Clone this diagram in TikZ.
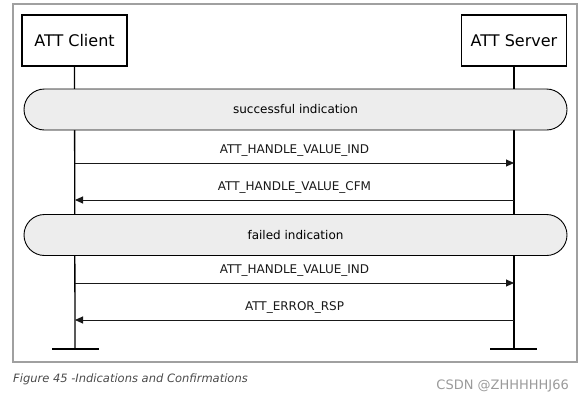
\documentclass[tikz,border=0pt]{standalone}
\usepackage{fontspec}
\setmainfont{DejaVu Sans}
\usepackage{xcolor}
\definecolor{framegray}{HTML}{A0A0A0}
\definecolor{barfill}{HTML}{EDEDED}
\definecolor{captext}{HTML}{4A4A4A}
\definecolor{marktext}{HTML}{9A9A9A}
\usetikzlibrary{arrows.meta,positioning,calc}

\begin{document}
\begin{tikzpicture}[x=1pt, y=-1pt,
    entity/.style={rectangle, draw=black, line width=1.6pt, fill=white, minimum width=105pt, minimum height=51pt, font=\fontsize{16}{18}\selectfont},
    phase/.style={rectangle, draw=black, line width=0.9pt, fill=barfill, rounded corners=20.5pt, minimum width=543pt, minimum height=41pt, font=\fontsize{12}{14}\selectfont},
    msg/.style={-{Triangle[length=8pt, width=7pt]}, line width=0.9pt, black!90},
    mlabel/.style={font=\fontsize{12}{14}\selectfont, above=3pt},
    lifeline/.style={line width=1.3pt, black}
  ]
    \useasboundingbox (0,0) rectangle (584,402);
    \draw[framegray, line width=1.3pt] (13,4) rectangle (577,362);

    % entities and lifelines
    \node[entity] (client) at (74.5,40.5) {ATT Client};
    \node[entity] (server) at (514,40.5) {ATT Server};
    \coordinate (cend) at (75,349);
    \coordinate (send) at (514,349);
    \draw[lifeline] (client.south) -- (cend);
    \draw[lifeline] (server.south) -- (send);
    \draw[lifeline] ($(cend)+(-23,0)$) -- ($(cend)+(24,0)$);
    \draw[lifeline] ($(send)+(-24,0)$) -- ($(send)+(23,0)$);

    % phases
    \node[phase] (ok) at (295.5,109.5) {successful indication};
    \node[phase] (fail) at (295.5,235) {failed indication};

    % messages
    \coordinate (c1) at (75,163); \coordinate (s1) at (514,163);
    \coordinate (c2) at (75,200); \coordinate (s2) at (514,200);
    \coordinate (c3) at (75,283); \coordinate (s3) at (514,283);
    \coordinate (c4) at (75,320); \coordinate (s4) at (514,320);
    \draw[msg] (c1) -- node[mlabel] {ATT\_HANDLE\_VALUE\_IND} (s1);
    \draw[msg] (s2) -- node[mlabel] {ATT\_HANDLE\_VALUE\_CFM} (c2);
    \draw[msg] (c3) -- node[mlabel] {ATT\_HANDLE\_VALUE\_IND} (s3);
    \draw[msg] (s4) -- node[mlabel] {ATT\_ERROR\_RSP} (c4);

    \node[anchor=west, text=captext, font=\fontsize{11.5}{13}\selectfont\itshape, inner sep=0pt] (cap) at (13,379) {Figure 45 -Indications and Confirmations};
    \node[anchor=east, text=marktext, font=\fontsize{13}{15}\selectfont, inner sep=0pt] (mark) at (569,386) {CSDN @ZHHHHHJ66};
  \end{tikzpicture}
\end{document}
